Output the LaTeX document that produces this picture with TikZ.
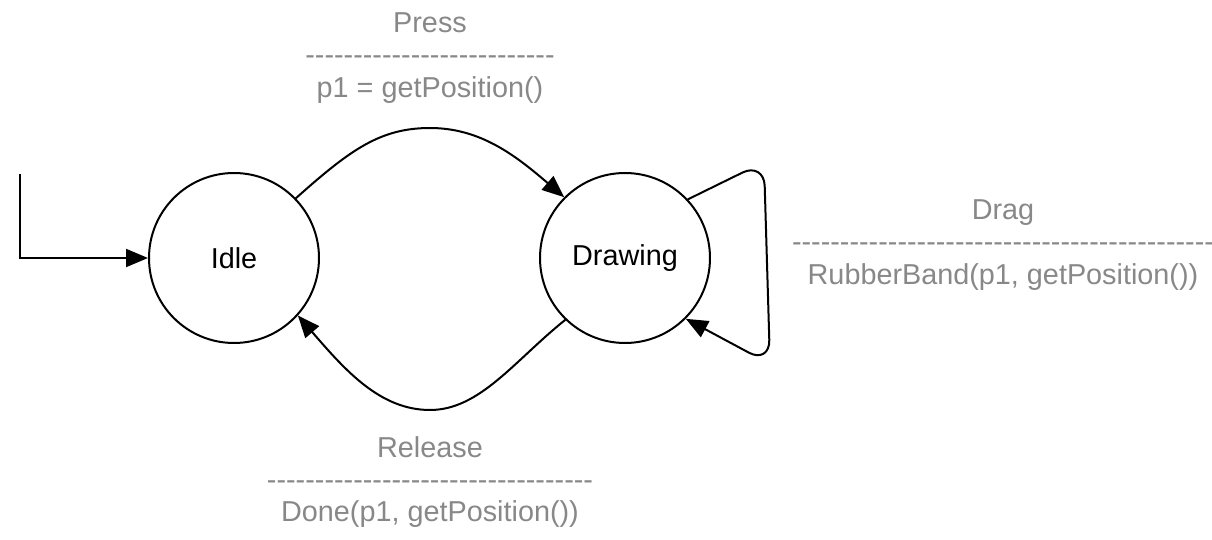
\documentclass[tikz,border=0pt]{standalone}
\usepackage{fontspec}
\setmainfont{Liberation Sans}[Ligatures=TeXOff]
\usetikzlibrary{arrows.meta}
\definecolor{lblgray}{RGB}{136,136,136}

\begin{document}
\begin{tikzpicture}[x=0.5pt, y=-0.5pt, font=\fontsize{14.4}{16.2}\selectfont,
    state/.style={circle, draw, line width=1pt, minimum size=85pt, inner sep=0pt},
    trans/.style={-{Triangle[length=11pt,width=9pt]}, line width=1pt},
    lbl/.style={text=lblgray, align=center}]
    \useasboundingbox (0,0) rectangle (1212,540);

    \node[state] (idle) at (234,258) {Idle};
    \node[state] (drawing) at (625,258) {Drawing};
    \coordinate (start) at (20,174);

    \draw[trans] (start) |- (idle);
    \draw[trans] (idle.44) .. controls (350,150) and (380,128) .. (430,128) .. controls (480,128) and (515,155) .. (drawing.135);
    \draw[trans] (drawing.-134) .. controls (515,360) and (480,410) .. (430,410) .. controls (380,410) and (345,370) .. (idle.-42);
    \draw[trans, rounded corners=12pt] (drawing.43) -- (764,162) -- (770,364) -- (drawing.-45);

    \node[lbl] (press) at (430,58) {Press\\--------------------------\\p1 = getPosition()};
    \node[lbl] (drag) at (1003,245) {Drag\\--------------------------------------------\\RubberBand(p1, getPosition())};
    \node[lbl] (release) at (430,482) {Release\\----------------------------------\\Done(p1, getPosition())};
\end{tikzpicture}
\end{document}
